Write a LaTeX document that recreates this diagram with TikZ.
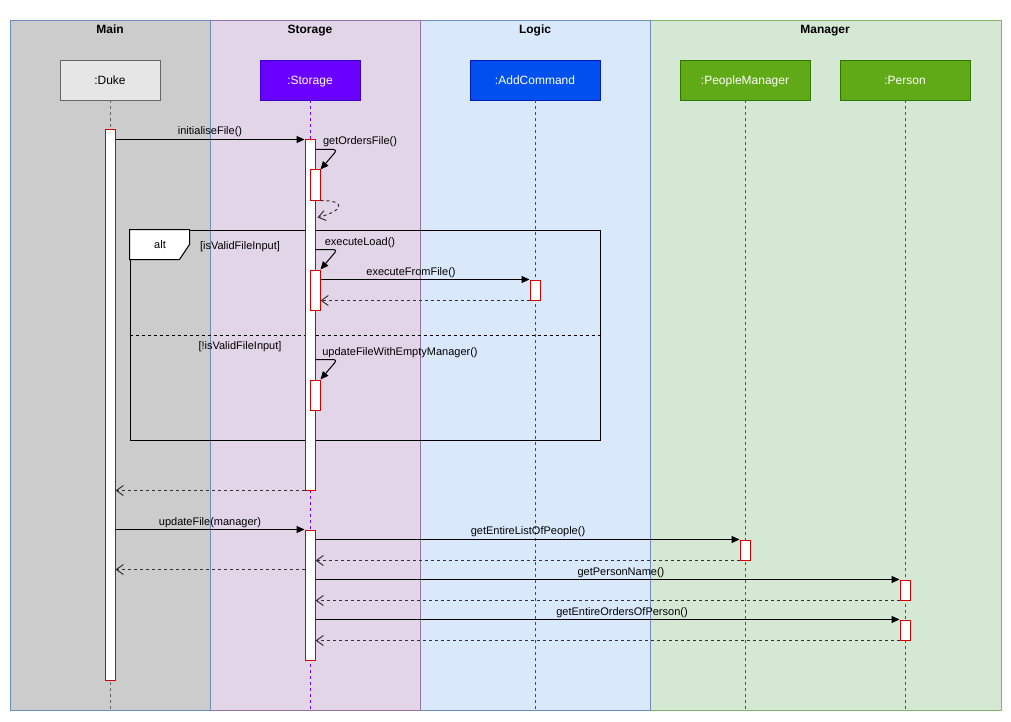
\documentclass[tikz,border=0pt]{standalone}
\usepackage{fontspec}
\setmainfont{Liberation Sans}
\usetikzlibrary{arrows.meta,calc}

\definecolor{mainfill}{HTML}{CCCCCC}
\definecolor{storefill}{HTML}{E1D5E7}
\definecolor{logicfill}{HTML}{DAE8FC}
\definecolor{mgrfill}{HTML}{D5E8D4}
\definecolor{blueline}{HTML}{6C8EBF}
\definecolor{purpleline}{HTML}{9673A6}
\definecolor{greenline}{HTML}{82B366}
\definecolor{dukefill}{HTML}{E6E6E6}
\definecolor{dukeline}{HTML}{666666}
\definecolor{storehead}{HTML}{6A00FF}
\definecolor{storeheadline}{HTML}{3700CC}
\definecolor{cmdhead}{HTML}{0050EF}
\definecolor{cmdheadline}{HTML}{001DBC}
\definecolor{mgrhead}{HTML}{60A917}
\definecolor{mgrheadline}{HTML}{2D7600}
\definecolor{actred}{HTML}{D40000}
\definecolor{retgray}{HTML}{333333}

\tikzset{
  lanebox/.style={draw=#1, line width=0.8pt},
  lanetitle/.style={font=\bfseries\fontsize{12}{14}\selectfont, inner sep=0pt,
    text height=8.6pt, text depth=0pt},
  head/.style={draw=#1, line width=0.8pt, minimum height=40pt, inner sep=0pt,
    text height=8.6pt, text depth=0pt, font=\fontsize{12}{14}\selectfont},
  life/.style={draw=#1, line width=0.8pt, dash pattern=on 3pt off 3pt},
  act/.style={draw=actred, fill=white, line width=1pt, minimum width=10pt, inner sep=0pt},
  msg/.style={draw=black, line width=1pt, -{Triangle[length=8pt,width=7pt]}},
  ret/.style={draw=retgray, line width=1pt, dash pattern=on 3pt off 3pt,
    -{Straight Barb[length=7pt,width=10pt]}},
  lbl/.style={font=\fontsize{11}{13}\selectfont, inner sep=0pt,
    text height=7.9pt, text depth=0pt},
}

\begin{document}
\begin{tikzpicture}[x=1pt,y=-1pt]
\useasboundingbox (0,0) rectangle (1011,722);
\fill[white] (0,0) rectangle (1011,722);

% swimlanes, right to left so each left neighbour's border stays on top
\draw[lanebox=greenline, fill=mgrfill] (650,20) rectangle (1001,710);
\draw[lanebox=blueline, fill=logicfill] (420,20) rectangle (650,710);
\draw[lanebox=purpleline, fill=storefill] (210,20) rectangle (420,710);
\draw[lanebox=blueline, fill=mainfill] (10,20) rectangle (210,710);
\node[lanetitle] (tmain) at (110,29) {Main};
\node[lanetitle] (tstore) at (310,29) {Storage};
\node[lanetitle] (tlogic) at (535,29) {Logic};
\node[lanetitle] (tmgr) at (825,29) {Manager};

% combined fragment
\node[draw=black, line width=1pt, minimum width=470pt, minimum height=210pt, inner sep=0pt]
  (altfr) at (365,335) {};
\draw[black, line width=1pt, fill=white] (altfr.north west) -- ++(60,0) -- ++(0,15)
  -- ++(-10,15) -- ++(-50,0) -- cycle;
\node[lbl] (altlbl) at (160,245) {alt};
\node[lbl] (guard1) at (240,246) {[isValidFileInput]};
\node[lbl] (guard2) at (240,346) {[!isValidFileInput]};
\draw[black, line width=1pt, dash pattern=on 3pt off 3pt]
  (altfr.west |- 0,335) -- (altfr.east |- 0,335);

% lifeline heads
\node[head=dukeline, fill=dukefill, minimum width=100pt] (duke) at (110,80) {:Duke};
\node[head=storeheadline, fill=storehead, text=white, minimum width=100pt] (store) at (310,80) {:Storage};
\node[head=cmdheadline, fill=cmdhead, text=white, minimum width=130pt] (cmd) at (535,80) {:AddCommand};
\node[head=mgrheadline, fill=mgrhead, text=white, minimum width=130pt] (pmgr) at (745,80) {:PeopleManager};
\node[head=mgrheadline, fill=mgrhead, text=white, minimum width=130pt] (person) at (905,80) {:Person};

% lifelines
\coordinate (dukeend) at (110,710);
\coordinate (storeend) at (310,710);
\coordinate (cmdend) at (535,710);
\coordinate (pmgrend) at (745,710);
\coordinate (personend) at (905,710);
\draw[life=dukeline] (duke.south) -- (dukeend);
\draw[life=storehead] (store.south) -- (storeend);
\draw[life=cmdhead] (cmd.south) -- (cmdend);
\draw[life=mgrheadline] (pmgr.south) -- (pmgrend);
\draw[life=mgrheadline] (person.south) -- (personend);

% activations
\node[act, minimum height=550pt] (dk) at (110,405) {};
\node[act, minimum height=350pt] (st1) at (310,315) {};
\node[act, minimum height=30pt] (st1a) at (315,185) {};
\node[act, minimum height=40pt] (st1b) at (315,290) {};
\node[act, minimum height=30pt] (st1c) at (315,395) {};
\node[act, minimum height=20pt] (ac) at (535,290) {};
\node[act, minimum height=130pt] (st2) at (310,595) {};
\node[act, minimum height=20pt] (pm) at (745,550) {};
\node[act, minimum height=20pt] (pr1) at (905,590) {};
\node[act, minimum height=20pt] (pr2) at (905,630) {};

% messages
\draw[msg] (dk.east |- st1.north) -- (st1.north west);
\node[lbl] (m1) at (210,131) {initialiseFile()};

\draw[msg, rounded corners=4pt] ($(st1.north east)+(0,10)$) -- ++(22,0) -- (st1a.north east);
\node[lbl] (m2) at (360,141) {getOrdersFile()};
\draw[ret] (st1a.south east) .. controls +(28,0) and +(24,-6) .. ($(st1.north east)+(2,78)$);

\draw[msg, rounded corners=4pt] ($(st1.north east)+(0,110)$) -- ++(22,0) -- (st1b.north east);
\node[lbl] (m3) at (360,242) {executeLoad()};

\draw[msg] (st1b.east |- ac.north) -- (ac.north west);
\node[lbl] (m4) at (411,272) {executeFromFile()};
\draw[ret] (ac.south west) -- (st1b.east |- ac.south);

\draw[msg, rounded corners=4pt] ($(st1.north east)+(0,220)$) -- ++(22,0) -- (st1c.north east);
\node[lbl] (m5) at (400,352) {updateFileWithEmptyManager()};

\draw[ret] (st1.south west) -- (dk.east |- st1.south);

\draw[msg] (dk.east |- st2.north) -- (st2.north west);
\node[lbl] (m6) at (210,522) {updateFile(manager)};

\draw[msg] (st2.east |- pm.north) -- (pm.north west);
\node[lbl] (m7) at (528,531) {getEntireListOfPeople()};
\draw[ret] (pm.south west) -- (st2.east |- pm.south);

\coordinate (back) at ($(st2.north west)+(0,40)$);
\draw[ret] (back) -- (dk.east |- back);

\draw[msg] (st2.east |- pr1.north) -- (pr1.north west);
\node[lbl] (m8) at (621,572) {getPersonName()};
\draw[ret] (pr1.south west) -- (st2.east |- pr1.south);

\draw[msg] (st2.east |- pr2.north) -- (pr2.north west);
\node[lbl] (m9) at (622,612) {getEntireOrdersOfPerson()};
\draw[ret] (pr2.south west) -- (st2.east |- pr2.south);
\end{tikzpicture}
\end{document}
